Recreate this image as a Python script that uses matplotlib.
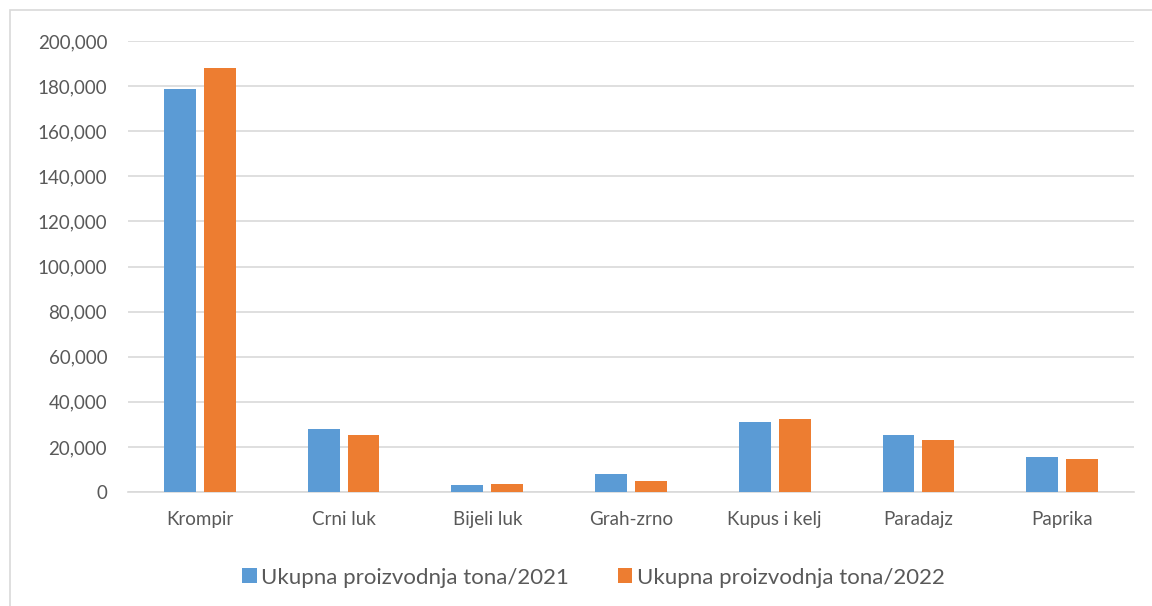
import numpy as np
import matplotlib.pyplot as plt
from matplotlib.patches import Rectangle

plt.rcParams['font.family'] = ['Lato', 'DejaVu Sans']

categories = ["Krompir", "Crni luk", "Bijeli luk", "Grah-zrno", "Kupus i kelj", "Paradajz", "Paprika"]
prod_2021 = [178600, 27900, 3100, 8200, 31100, 25200, 15400]
prod_2022 = [188200, 25300, 3700, 4900, 32300, 23000, 14600]
series_labels = ["Ukupna proizvodnja tona/2021", "Ukupna proizvodnja tona/2022"]
yticks = list(range(0, 200001, 20000))

BLUE = "#5B9BD5"
ORANGE = "#ED7D31"
GRID = "#D9D9D9"
TEXT = "#595959"

fig = plt.figure(figsize=(11.52, 6.06), dpi=100)
ax = fig.add_axes([0.1111, 0.1881, 0.8733, 0.7442])

# outer chart border like the Excel chart frame
fig.patches.append(Rectangle((10 / 1152, -0.01), 1.2, 1 - 10 / 606 + 0.01,
                             transform=fig.transFigure, fill=False,
                             edgecolor="#D9D9D9", lw=1.2))

x = np.arange(len(categories))
w = 0.222
gap = 0.056
ax.bar(x - (w + gap) / 2, prod_2021, width=w, color=BLUE, label=series_labels[0], zorder=3)
ax.bar(x + (w + gap) / 2, prod_2022, width=w, color=ORANGE, label=series_labels[1], zorder=3)

ax.set_xlim(-0.5, len(categories) - 0.5)
ax.set_ylim(0, 200000)
ax.set_yticks(yticks)
ax.set_yticklabels([f"{v:,}" for v in yticks])
ax.set_xticks(x)
ax.set_xticklabels(categories)
ax.grid(axis="y", color=GRID, lw=1.2, zorder=0)
for s in ["top", "right", "left"]:
    ax.spines[s].set_visible(False)
ax.spines["bottom"].set_color(GRID)
ax.spines["bottom"].set_linewidth(1.2)
ax.tick_params(axis="both", length=0, colors=TEXT, labelsize=13.5)
ax.tick_params(axis="x", pad=14)
ax.tick_params(axis="y", pad=15)

handles, labels = ax.get_legend_handles_labels()
leg = fig.legend(handles, labels, loc="center", bbox_to_anchor=(0.515, 0.047), ncol=2,
                 frameon=False, fontsize=16, handlelength=0.65, handleheight=0.65,
                 handletextpad=0.2, columnspacing=2.2)
for t in leg.get_texts():
    t.set_color(TEXT)

fig.savefig("out.png", dpi=100)
